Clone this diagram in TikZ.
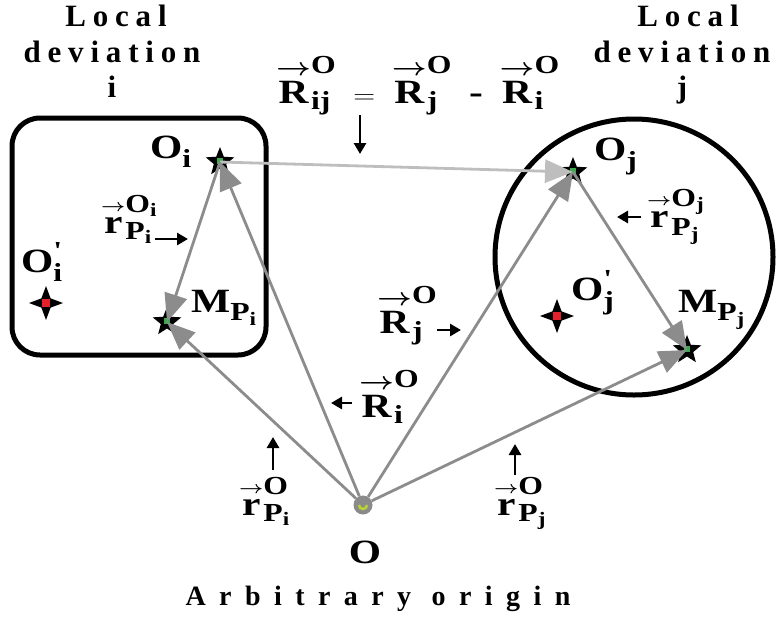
\documentclass[tikz,border=0pt]{standalone}
\usepackage{amsmath}
\usepackage{graphicx}
\usepackage{fontspec}
\setmainfont{Liberation Serif}
\usetikzlibrary{arrows.meta,shapes.geometric}
\DeclareMathSizes{34}{34}{26}{19}

\definecolor{vecgray}{HTML}{8C8C8C}
\definecolor{lightgray2}{HTML}{BEBEBE}
\definecolor{ptgreen}{HTML}{3DAA4F}
\definecolor{ptred}{HTML}{E4202A}
\definecolor{origgray}{HTML}{8A8A8A}
\definecolor{origgreen}{HTML}{B8D430}

\newcommand{\mb}[1]{\text{\bfseries #1}}
\newcommand{\vecb}[1]{\overset{\boldsymbol{\rightarrow}}{\mb{#1}}}
\newcommand{\vecr}[1]{\overset{\scriptscriptstyle\boldsymbol{\rightarrow}}{\mb{#1}}}
\newcommand{\wide}[1]{\scalebox{1.22}[1]{#1}}
\newcommand{\prm}{\mb{\textquotesingle}}
\newcommand{\titlefont}{\fontsize{31}{36}\selectfont\bfseries\addfontfeatures{LetterSpace=22}}
\newcommand{\labfont}{\fontsize{34}{38}\selectfont\bfseries}

\begin{document}
\begin{tikzpicture}[x=1pt,y=-1pt,
  vec/.style={draw=vecgray,line width=2.8pt,-{Triangle[length=28pt,width=23pt]}},
  lightvec/.style={vec,draw=lightgray2},
  pointer/.style={line width=2.8pt,-{Triangle[length=11pt,width=12pt]}},
  lab/.style={inner sep=0pt,anchor=base west,font=\labfont},
  title/.style={inner sep=0pt,anchor=base,font=\titlefont},
  site/.style={star,star points=5,star point ratio=2.3,fill=black,minimum size=30pt,inner sep=0pt,
    path picture={\fill[ptgreen] ([shift={(-3pt,-3pt)}]path picture bounding box.center) rectangle ++(6pt,6pt);}},
  refpt/.style={star,star points=4,star point ratio=2.6,fill=black,minimum size=34pt,inner sep=0pt,
    path picture={\fill[ptred] ([shift={(-4pt,-4pt)}]path picture bounding box.center) rectangle ++(8pt,8pt);}}]
  \useasboundingbox (0,0) rectangle (777,619);

  % Local deviations
  \draw[line width=5pt,rounded corners=28pt] (12,118) rectangle (266,355);
  \draw[line width=5pt] (634,257) circle[x radius=139,y radius=138];

  % Titles
  \node[title] (Li) at (116,26) {Local};
  \node[title] (Di) at (112,62) {deviation};
  \node[title] (Ii) at (112,97) {i};
  \node[title] (Lj) at (688,26) {Local};
  \node[title] (Dj) at (682,62) {deviation};
  \node[title] (Jj) at (682,97) {j};
  \node[title,font=\fontsize{28}{32}\selectfont\bfseries\addfontfeatures{LetterSpace=48}] (arb) at (378,605) {Arbitrary origin};

  % Points
  \node[refpt] (Rpi) at (46,303) {};
  \node[refpt] (Rpj) at (557,316) {};
  \node[site] (Oi) at (220,162) {};
  \node[site] (Oj) at (573,172) {};
  \node[site] (Mi) at (167,322) {};
  \node[site] (Mj) at (687,350) {};
  \node[circle,fill=origgray,minimum size=19pt,inner sep=0pt] (O) at (363,505) {};
  \draw[origgreen,line width=2.5pt] ([xshift=-4pt]O.center) arc[start angle=180,end angle=0,radius=4];

  % Vectors
  \draw[lightvec] (Oi.center) -- (Oj.center);
  \draw[vec] (O) -- (Oi.center);
  \draw[vec] (O) -- (Mi.center);
  \draw[vec] (O) -- (Oj.center);
  \draw[vec] (O) -- (Mj.center);
  \draw[vec] (Oi.center) -- (Mi.center);
  \draw[vec] (Oj.center) -- (Mj.center);

  % Labels
  \node[lab] (lOi) at (150,158) {\wide{$\mb{O}_{\mb{i}}$}};
  \node[lab] (lOj) at (594,160) {\wide{$\mb{O}_{\mb{j}}$}};
  \node[lab] (lRpi) at (21,272) {\wide{$\mb{O}^{\prm}_{\mb{i}}$}};
  \node[lab] (lRpj) at (571,300) {\wide{$\mb{O}^{\prm}_{\mb{j}}$}};
  \node[lab] (lMi) at (191,312) {\wide{$\mb{M}_{\mb{P}_{\mb{i}}}$}};
  \node[lab] (lMj) at (678,312) {\wide{$\mb{M}_{\mb{P}_{\mb{j}}}$}};
  \node[lab] (lri) at (101,233) {\wide{$\vecr{r}^{\mb{O}_{\mb{i}}}_{\mb{P}_{\mb{i}}}$}};
  \node[lab] (lrj) at (647,227) {\wide{$\vecr{r}^{\mb{O}_{\mb{j}}}_{\mb{P}_{\mb{j}}}$}};
  \node[lab] (lRj) at (377,333) {\wide{$\vecb{R}^{\mb{O}}_{\mb{j}}$}};
  \node[lab] (lRi) at (359,417) {\wide{$\vecb{R}^{\mb{O}}_{\mb{i}}$}};
  \node[lab] (lrOi) at (239,515) {\wide{$\vecr{r}^{\mb{O}}_{\mb{P}_{\mb{i}}}$}};
  \node[lab] (lrOj) at (494,515) {\wide{$\vecr{r}^{\mb{O}}_{\mb{P}_{\mb{j}}}$}};
  \node[lab,anchor=base] (lO) at (365,563) {\wide{$\mb{O}$}};
  \node[lab] (eq) at (276,103) {\wide{$\vecb{R}^{\mb{O}}_{\mb{ij}} \;=\; \vecb{R}^{\mb{O}}_{\mb{j}} \;\;\mb{-}\;\; \vecb{R}^{\mb{O}}_{\mb{i}}$}};

  % Pointers
  \draw[pointer] (155,239) -- (188,239);
  \draw[pointer] (360,115) -- (360,154);
  \draw[pointer] (641,217) -- (617,217);
  \draw[pointer] (437,330) -- (461,330);
  \draw[pointer] (352,403) -- (331,403);
  \draw[pointer] (273,470) -- (273,437);
  \draw[pointer] (515,475) -- (515,444);
\end{tikzpicture}
\end{document}
